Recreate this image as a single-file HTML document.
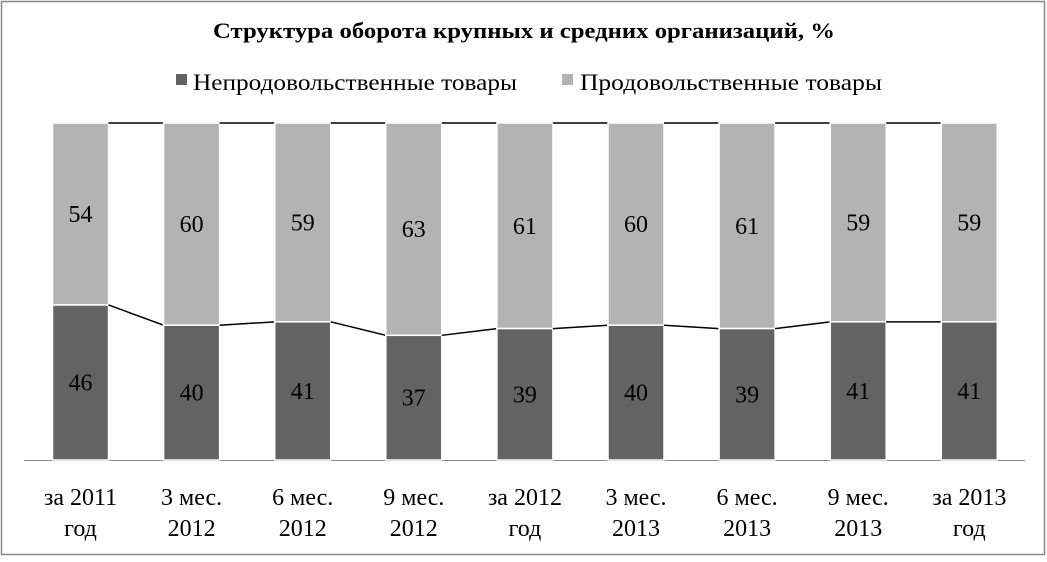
<!DOCTYPE html>
<html><head><meta charset="utf-8"><style>
body{margin:0;background:#fff}
svg{display:block}
text{font-family:"Liberation Serif",serif;fill:#000}
</style></head><body>
<svg width="1047" height="562" viewBox="0 0 1047 562">
<rect x="1.5" y="1.5" width="1043" height="553" fill="#fff" stroke="#888" stroke-width="1.5"/>
<text x="213" y="38" font-size="22" font-weight="bold" textLength="622" lengthAdjust="spacingAndGlyphs">Структура оборота крупных и средних организаций, %</text>
<rect x="176" y="74" width="11" height="11" fill="#636363"/>
<text x="193" y="90" font-size="23" textLength="324" lengthAdjust="spacingAndGlyphs">Непродовольственные товары</text>
<rect x="562" y="74" width="11" height="11" fill="#b3b3b3"/>
<text x="580" y="90" font-size="23" textLength="302" lengthAdjust="spacingAndGlyphs">Продовольственные товары</text>
<line x1="24" y1="460.5" x2="1025" y2="460.5" stroke="#888" stroke-width="1"/>
<g id="bars"></g>
</svg>
<script>
var d=[46,40,41,37,39,40,39,41,41];
var l1=["за 2011","3 мес.","6 мес.","9 мес.","за 2012","3 мес.","6 мес.","9 мес.","за 2013"];
var l2=["год","2012","2012","2012","год","2013","2013","2013","год"];
var g=document.getElementById("bars"),s="";
var T=123,B=460,H=B-T,w=56;
for(var i=0;i<9;i++){
 var x=52.5+i*111.1, y=B-d[i]/100*H;
 s+='<rect x="'+x+'" y="'+T+'" width="'+w+'" height="'+(y-T)+'" fill="#b3b3b3" stroke="#fff" stroke-width="1.5"/>';
 s+='<rect x="'+x+'" y="'+y+'" width="'+w+'" height="'+(B-y)+'" fill="#636363" stroke="#fff" stroke-width="1.5"/>';
 var c=x+w/2;
 s+='<text x="'+c+'" y="'+((T+y)/2+8)+'" font-size="24" text-anchor="middle">'+(100-d[i])+'</text>';
 s+='<text x="'+c+'" y="'+((y+B)/2+8)+'" font-size="24" text-anchor="middle">'+d[i]+'</text>';
 s+='<text x="'+c+'" y="505" font-size="24" text-anchor="middle">'+l1[i]+'</text>';
 s+='<text x="'+c+'" y="536" font-size="24" text-anchor="middle">'+l2[i]+'</text>';
 if(i<8){var x2=52.5+(i+1)*111.1, y2=B-d[i+1]/100*H;
  s+='<line x1="'+(x+w)+'" y1="'+y+'" x2="'+x2+'" y2="'+y2+'" stroke="#000" stroke-width="1.5"/>';
  s+='<line x1="'+(x+w)+'" y1="'+T+'" x2="'+x2+'" y2="'+T+'" stroke="#000" stroke-width="1.5"/>';}
}
g.innerHTML=s;
</script>
</body></html>
